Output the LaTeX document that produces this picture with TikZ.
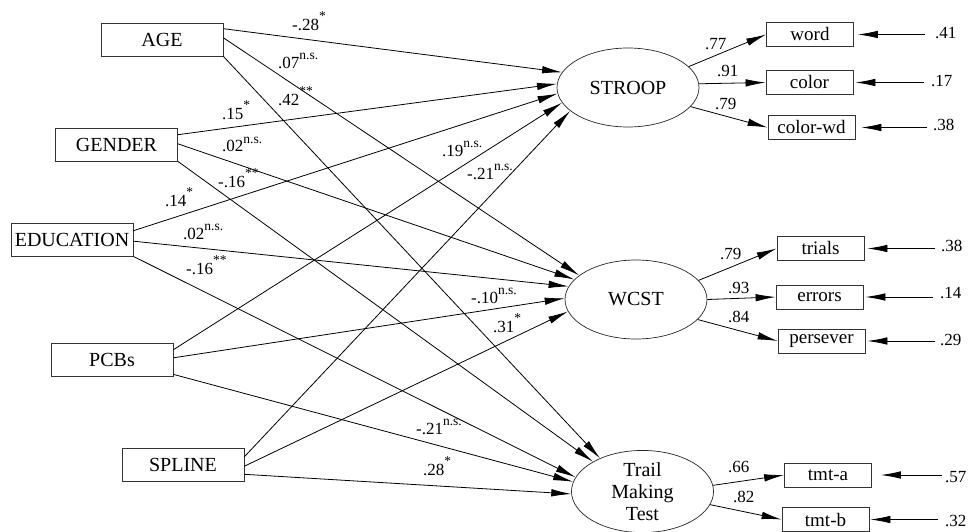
\documentclass[tikz,border=0pt]{standalone}
\usepackage{fontspec}
\setmainfont{Liberation Serif}
\usetikzlibrary{arrows.meta,shapes.geometric,calc}
\newcommand{\sigNS}{\raisebox{9pt}{\fontsize{13.5}{13.5}\selectfont n.s.}}
\newcommand{\sigA}{\raisebox{10pt}{\fontsize{13.5}{13.5}\selectfont *}}
\newcommand{\sigB}{\raisebox{10pt}{\fontsize{13.5}{13.5}\selectfont **}}
\begin{document}
\begin{tikzpicture}[x=1pt,y=-1pt,
  big/.style={draw=black!80, line width=0.8pt, rectangle, inner sep=0pt,
    minimum width=122pt, minimum height=33pt, font=\fontsize{20}{20}\selectfont},
  ind/.style={draw=black!80, line width=0.8pt, rectangle, inner sep=0pt,
    minimum width=87pt, minimum height=24pt, font=\fontsize{19}{19}\selectfont},
  latent/.style={ellipse, draw=black!85, line width=0.7pt, inner sep=0pt,
    minimum width=142pt, minimum height=79pt, font=\fontsize{20}{22}\selectfont, align=center},
  reg/.style={line width=0.8pt, -{Latex[length=20pt,width=7.5pt]}},
  lbl/.style={inner sep=0pt, anchor=base west, font=\fontsize{17}{17}\selectfont},
]
\useasboundingbox (0,0) rectangle (969,532);

% exogenous
\node[big] (age) at (162,39.5) {AGE};
\node[big] (gender) at (116.5,144.5) {GENDER};
\node[big] (edu) at (72,239.5) {EDUCATION};
\node[big] (pcb) at (112,359.5) {PCBs};
\node[big] (spline) at (183,464.5) {SPLINE};

% latent
\node[latent] (stroop) at (628,87.5) {STROOP};
\node[latent] (wcst) at (636,299.5) {WCST};
\node[latent] (tmt) at (642.5,491.5) {Trail\\Making\\Test};

% indicators
\node[ind] (word) at (810,34.5) {word};
\node[ind] (color) at (809.5,82.5) {color};
\node[ind] (colorwd) at (811.5,127.5) {color-wd};
\node[ind] (trials) at (820.5,248.5) {trials};
\node[ind] (errors) at (819.5,297) {errors};
\node[ind] (persever) at (821.5,341) {persever};
\node[ind] (tmta) at (828,475) {tmt-a};
\node[ind] (tmtb) at (825.5,519.5) {tmt-b};

% structural paths
\draw[reg] ($(age.north east)!0.18!(age.south east)$) -- (stroop.167);
\draw[reg] ($(age.north east)!0.45!(age.south east)$) -- (wcst.157);
\draw[reg] (age.south east) -- (tmt.142);
\draw[reg] ($(gender.north east)!0.21!(gender.south east)$) -- (stroop.177);
\draw[reg] ($(gender.north east)!0.48!(gender.south east)$) -- (wcst.162);
\draw[reg] (gender.south east) -- (tmt.149);
\draw[reg] ($(edu.north east)!0.24!(edu.south east)$) -- (stroop.185);
\draw[reg] ($(edu.north east)!0.55!(edu.south east)$) -- (wcst.169);
\draw[reg] (edu.south east) -- (tmt.168);
\draw[reg] ($(pcb.north east)!0.21!(pcb.south east)$) -- (stroop.193);
\draw[reg] ($(pcb.north east)!0.45!(pcb.south east)$) -- (wcst.179);
\draw[reg] ($(pcb.north east)!0.94!(pcb.south east)$) -- (tmt.172);
\draw[reg] ($(spline.north east)!0.27!(spline.south east)$) -- (stroop.202);
\draw[reg] ($(spline.north east)!0.55!(spline.south east)$) -- (wcst.190);
\draw[reg] ($(spline.north east)!0.79!(spline.south east)$) -- (tmt.182);

% structural labels
\node[lbl] (l1) at (292,31) {-.28\sigA};
\node[lbl] (l2) at (278,69) {.07\sigNS};
\node[lbl] (l3) at (278,106) {.42\sigB};
\node[lbl] (l4) at (222,120) {.15\sigA};
\node[lbl] (l5) at (222,152) {.02\sigNS};
\node[lbl] (l6) at (218,187) {-.16\sigB};
\node[lbl] (l7) at (165,206) {.14\sigA};
\node[lbl] (l8) at (183,239) {.02\sigNS};
\node[lbl] (l9) at (186,274) {-.16\sigB};
\node[lbl] (l10) at (442,157) {.19\sigNS};
\node[lbl] (l11) at (467,179) {-.21\sigNS};
\node[lbl] (l12) at (471,303) {-.10\sigNS};
\node[lbl] (l13) at (493,332) {.31\sigA};
\node[lbl] (l14) at (416,434) {-.21\sigNS};
\node[lbl] (l15) at (423,475) {.28\sigA};

% loadings
\draw[reg] (stroop.19) -- (word.west);
\draw[reg] (stroop.3) -- (color.west);
\draw[reg] (stroop.343) -- (colorwd.west);
\draw[reg] (wcst.17) -- (trials.west);
\draw[reg] (wcst.0) -- (errors.west);
\draw[reg] (wcst.342) -- (persever.west);
\draw[reg] (tmt.5) -- (tmta.west);
\draw[reg] (tmt.349) -- (tmtb.west);

\node[lbl] (k1) at (705,50) {.77};
\node[lbl] (k2) at (717,77) {.91};
\node[lbl] (k3) at (715,110) {.79};
\node[lbl] (k4) at (720,259) {.79};
\node[lbl] (k5) at (728,293) {.93};
\node[lbl] (k6) at (728,322) {.84};
\node[lbl] (k7) at (728,472) {.66};
\node[lbl] (k8) at (733,502) {.82};

% error terms
\node[lbl] (e1) at (935,39) {.41};
\node[lbl] (e2) at (931,87) {.17};
\node[lbl] (e3) at (933,131) {.38};
\node[lbl] (e4) at (941,251) {.38};
\node[lbl] (e5) at (940,298) {.14};
\node[lbl] (e6) at (940,345) {.29};
\node[lbl] (e7) at (945,482) {.57};
\node[lbl] (e8) at (945,526) {.32};

\draw[reg, shorten <=10pt, shorten >=4pt] (e1.west |- word.east) -- (word.east);
\draw[reg, shorten <=7pt, shorten >=2pt] (e2.west |- color.east) -- (color.east);
\draw[reg, shorten <=6pt, shorten >=6pt] (e3.west |- colorwd.east) -- (colorwd.east);
\draw[reg, shorten <=6pt, shorten >=3pt] (e4.west |- trials.east) -- (trials.east);
\draw[reg, shorten <=7pt, shorten >=2pt] (e5.west |- errors.east) -- (errors.east);
\draw[reg, shorten <=5pt, shorten >=2pt] (e6.west |- persever.east) -- (persever.east);
\draw[reg, shorten <=3pt, shorten >=9pt] (e7.west |- tmta.east) -- (tmta.east);
\draw[reg, shorten <=7pt, shorten >=1pt] (e8.west |- tmtb.east) -- (tmtb.east);
\end{tikzpicture}
\end{document}
